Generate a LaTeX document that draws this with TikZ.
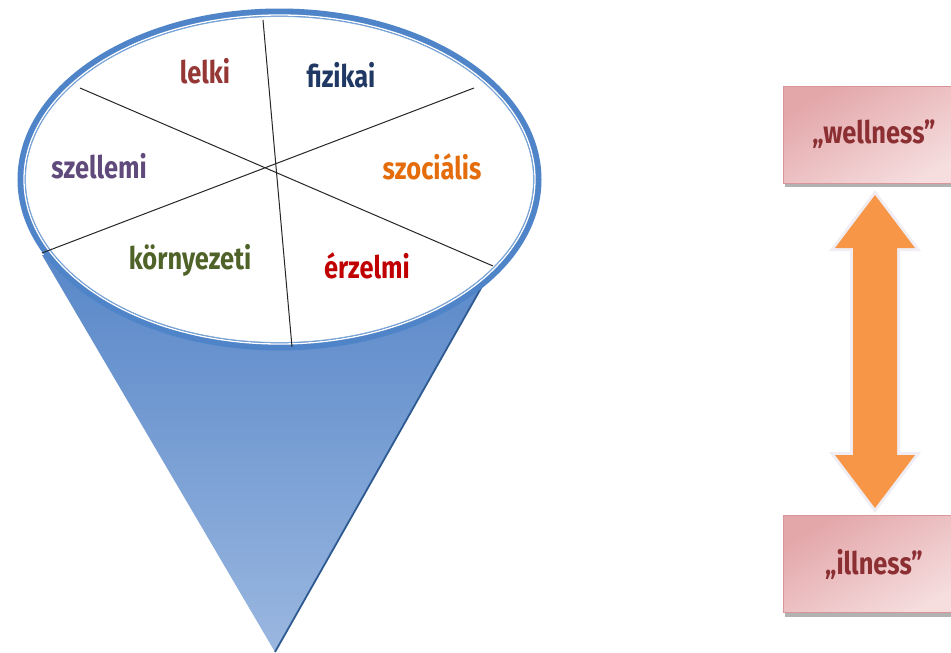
\documentclass[tikz,border=0pt]{standalone}
\usepackage{fontspec}
\setmainfont{Fira Sans}[FakeStretch=0.82]
\usetikzlibrary{calc}
\definecolor{ringblue}{HTML}{4F85C8}
\definecolor{conetop}{HTML}{5887C8}
\definecolor{conemid}{HTML}{3F70B4}
\definecolor{conebot}{HTML}{9AB7E0}
\definecolor{coneedge}{HTML}{2E5A91}
\definecolor{clelki}{HTML}{953735}
\definecolor{cfizikai}{HTML}{1F3864}
\definecolor{cszellemi}{HTML}{604A7B}
\definecolor{cszocialis}{HTML}{E46C0A}
\definecolor{ckornyezeti}{HTML}{4F6228}
\definecolor{cerzelmi}{HTML}{C00000}
\definecolor{boxdark}{HTML}{E3A6A9}
\definecolor{boxlight}{HTML}{F6DEDF}
\definecolor{boxline}{HTML}{D9969A}
\definecolor{boxtext}{HTML}{8B2F33}
\definecolor{arroworange}{HTML}{F79646}
\definecolor{arrowglow}{HTML}{F0EDF5}
\tikzset{
  lab/.style={font=\fontsize{31}{34}\selectfont\bfseries, inner sep=0pt, anchor=center},
  stateb/.style={rectangle, minimum width=182pt, minimum height=97pt, draw=boxline, line width=0.8pt,
    top color=boxdark, bottom color=boxlight, shading angle=30,
    font=\fontsize{31}{34}\selectfont\bfseries, text=boxtext},
  divline/.style={draw=black!85, line width=1pt},
}
\begin{document}
\begin{tikzpicture}[x=1pt,y=-1pt]
\useasboundingbox[fill=white] (0,0) rectangle (951,653);
% cone
\coordinate (cl) at (42,255);
\coordinate (cr) at (493,267);
\coordinate (apex) at (275,652);
\shade[top color=conetop, middle color=conemid, bottom color=conebot]
  (cl) -- (apex) -- (cr) -- cycle;
\draw[coneedge, line width=1.8pt] (apex) -- (cr);
% top ellipse
\coordinate (ec) at (279.5,179.5);
\fill[white] (ec) ellipse [x radius=258, y radius=167];
\draw[ringblue, line width=8pt] (ec) ellipse [x radius=258, y radius=167];
\draw[white, line width=1.3pt] (ec) ellipse [x radius=255.5, y radius=164.5];
\draw[ringblue!70, line width=0.8pt] (ec) ellipse [x radius=254, y radius=163];
% dividing lines
\draw[divline] (263,20) -- (292,347);
\draw[divline] (80,88) -- (493,266);
\draw[divline] (474,88) -- (42,253);
% labels
\node[lab, text=clelki] (lelki) at (205,71) {lelki};
\node[lab, text=cfizikai] (fizikai) at (341,75) {fizikai};
\node[lab, text=cszellemi] (szellemi) at (99,166) {szellemi};
\node[lab, text=cszocialis] (szocialis) at (432,167) {szociális};
\node[lab, text=ckornyezeti] (kornyezeti) at (190,260) {környezeti};
\node[lab, text=cerzelmi] (erzelmi) at (367,266) {érzelmi};
% boxes
\fill[black!30] (785,183) rectangle (965,187);
\fill[black!30] (785,613) rectangle (965,617);
\node[stateb] (well) at (874,134.5) {„wellness”};
\node[stateb] (ill) at (874,564) {„illness”};
% double arrow
\coordinate (tt) at (875,195);
\coordinate (bt) at (875,508);
\path[draw=arrowglow, line width=6pt, line join=miter, fill=arroworange]
  (tt) -- (915,248) -- (897,248) -- (897,455) -- (915,455) -- (bt)
  -- (835,455) -- (853,455) -- (853,248) -- (835,248) -- cycle;
\fill[arroworange]
  (tt) -- (915,248) -- (897,248) -- (897,455) -- (915,455) -- (bt)
  -- (835,455) -- (853,455) -- (853,248) -- (835,248) -- cycle;
\end{tikzpicture}
\end{document}
